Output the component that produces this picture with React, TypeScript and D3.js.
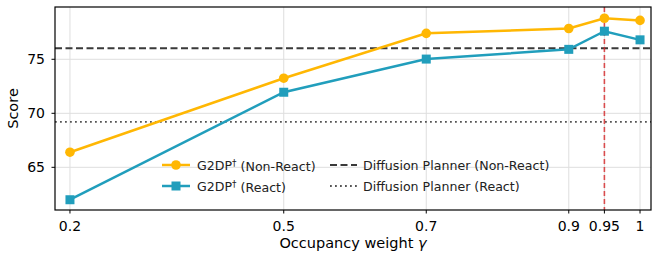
import React, { useEffect, useRef } from "react";
import * as d3 from "d3";

const weights = [0.2, 0.5, 0.7, 0.9, 0.95, 1];
const tickLabels = ["0.2", "0.5", "0.7", "0.9", "0.95", "1"];
const nonReact = [66.4, 73.25, 77.4, 77.85, 78.8, 78.6];
const react = [62.0, 71.95, 75.02, 75.92, 77.6, 76.8];
const baselineNonReact = 76.02;
const baselineReact = 69.2;
const yTicks = [65, 70, 75];
const highlight = 0.95;

const W = 652;
const H = 254;
const margin = { top: 7, right: 1, bottom: 44, left: 55 };
const font = "DejaVu Sans, sans-serif";
const ORANGE = "#ffb703";
const BLUE = "#219ebc";

export default function App() {
  const ref = useRef<SVGSVGElement>(null);

  useEffect(() => {
    const svgEl = ref.current;
    if (!svgEl) return;
    d3.select(svgEl).selectAll("*").remove();

    const iw = W - margin.left - margin.right;
    const ih = H - margin.top - margin.bottom;

    const x = d3.scaleLinear().domain([0.179, 1.0154]).range([0, iw]);
    const y = d3.scaleLinear().domain([61.05, 79.84]).range([ih, 0]);

    const svg = d3.select(svgEl);
    svg.append("rect").attr("width", W).attr("height", H).attr("fill", "#fff");
    const g = svg.append("g").attr("transform", `translate(${margin.left},${margin.top})`);

    // grid
    g.selectAll(".gx").data(weights).join("line")
      .attr("x1", (d) => x(d)).attr("x2", (d) => x(d))
      .attr("y1", 0).attr("y2", ih)
      .attr("stroke", "#dedede").attr("stroke-width", 1);
    g.selectAll(".gy").data(yTicks).join("line")
      .attr("x1", 0).attr("x2", iw)
      .attr("y1", (d) => y(d)).attr("y2", (d) => y(d))
      .attr("stroke", "#dedede").attr("stroke-width", 1);

    // baselines
    g.append("line")
      .attr("x1", 0).attr("x2", iw)
      .attr("y1", y(baselineNonReact)).attr("y2", y(baselineNonReact))
      .attr("stroke", "#3a3a3a").attr("stroke-width", 1.8)
      .attr("stroke-dasharray", "7,3.5");
    g.append("line")
      .attr("x1", 0).attr("x2", iw)
      .attr("y1", y(baselineReact)).attr("y2", y(baselineReact))
      .attr("stroke", "#555").attr("stroke-width", 1.8)
      .attr("stroke-dasharray", "1.8,3.2");

    // highlight vertical
    g.append("line")
      .attr("x1", x(highlight)).attr("x2", x(highlight))
      .attr("y1", 0).attr("y2", ih)
      .attr("stroke", "#d62728").attr("stroke-opacity", 0.8)
      .attr("stroke-width", 1.6).attr("stroke-dasharray", "5,3");

    const line = d3.line<number>().x((d, i) => x(weights[i])).y((d) => y(d));

    g.append("path").datum(react).attr("d", line)
      .attr("fill", "none").attr("stroke", BLUE).attr("stroke-width", 2.5);
    g.selectAll(".sq").data(react).join("rect")
      .attr("x", (d, i) => x(weights[i]) - 4.5).attr("y", (d) => y(d) - 4.5)
      .attr("width", 9).attr("height", 9).attr("fill", BLUE);

    g.append("path").datum(nonReact).attr("d", line)
      .attr("fill", "none").attr("stroke", ORANGE).attr("stroke-width", 2.5);
    g.selectAll(".ci").data(nonReact).join("circle")
      .attr("cx", (d, i) => x(weights[i])).attr("cy", (d) => y(d))
      .attr("r", 4.8).attr("fill", ORANGE);

    // frame
    g.append("rect").attr("width", iw).attr("height", ih)
      .attr("fill", "none").attr("stroke", "#000").attr("stroke-width", 1.2);

    // x axis
    const xa = g.append("g").attr("transform", `translate(0,${ih})`);
    weights.forEach((w, i) => {
      xa.append("line").attr("x1", x(w)).attr("x2", x(w)).attr("y1", 0).attr("y2", 3.5)
        .attr("stroke", "#000").attr("stroke-width", 1);
      xa.append("text").attr("x", x(w)).attr("y", 21).attr("text-anchor", "middle")
        .attr("font-family", font).attr("font-size", 14).attr("fill", "#000")
        .text(tickLabels[i]);
    });
    const xl = g.append("text").attr("x", iw / 2).attr("y", ih + 38).attr("text-anchor", "middle")
      .attr("font-family", font).attr("font-size", 14.5).attr("fill", "#000");
    xl.append("tspan").text("Occupancy weight ");
    xl.append("tspan").attr("font-style", "italic").text("γ");

    // y axis
    yTicks.forEach((t) => {
      g.append("line").attr("x1", -3.5).attr("x2", 0).attr("y1", y(t)).attr("y2", y(t))
        .attr("stroke", "#000").attr("stroke-width", 1);
      g.append("text").attr("x", -10).attr("y", y(t)).attr("dy", "0.36em")
        .attr("text-anchor", "end").attr("font-family", font).attr("font-size", 14)
        .attr("fill", "#000").text(String(t));
    });
    g.append("text")
      .attr("transform", `translate(${-37},${ih / 2}) rotate(-90)`)
      .attr("text-anchor", "middle").attr("font-family", font).attr("font-size", 14.5)
      .attr("fill", "#000").text("Score");

    // legend
    const leg = svg.append("g");
    const row1 = 165;
    const row2 = 186;
    const addText = (tx: number, ty: number, main: string, rest: string, dagger: boolean) => {
      const t = leg.append("text").attr("x", tx).attr("y", ty).attr("dy", "0.36em")
        .attr("font-family", font).attr("font-size", 12.6).attr("fill", "#222");
      t.append("tspan").text(main);
      if (dagger) t.append("tspan").attr("dy", "-0.4em").attr("font-size", 9).text("†");
      t.append("tspan").attr("dy", dagger ? "0.4em" : 0).text(rest);
    };
    leg.append("line").attr("x1", 162).attr("x2", 190).attr("y1", row1).attr("y2", row1)
      .attr("stroke", ORANGE).attr("stroke-width", 2.5);
    leg.append("circle").attr("cx", 176).attr("cy", row1).attr("r", 4.8).attr("fill", ORANGE);
    addText(197, row1, "G2DP", " (Non-React)", true);
    leg.append("line").attr("x1", 162).attr("x2", 190).attr("y1", row2).attr("y2", row2)
      .attr("stroke", BLUE).attr("stroke-width", 2.5);
    leg.append("rect").attr("x", 171.5).attr("y", row2 - 4.5).attr("width", 9).attr("height", 9)
      .attr("fill", BLUE);
    addText(197, row2, "G2DP", " (React)", true);

    leg.append("line").attr("x1", 330).attr("x2", 357).attr("y1", row1).attr("y2", row1)
      .attr("stroke", "#3a3a3a").attr("stroke-width", 1.8).attr("stroke-dasharray", "7,3.5");
    addText(363, row1, "Diffusion Planner (Non-React)", "", false);
    leg.append("line").attr("x1", 330).attr("x2", 357).attr("y1", row2).attr("y2", row2)
      .attr("stroke", "#555").attr("stroke-width", 1.8).attr("stroke-dasharray", "1.8,3.2");
    addText(363, row2, "Diffusion Planner (React)", "", false);
  }, []);

  return (
    <svg ref={ref} width={W} height={H}
      style={{ position: "absolute", left: 0, top: 0, display: "block" }} />
  );
}
